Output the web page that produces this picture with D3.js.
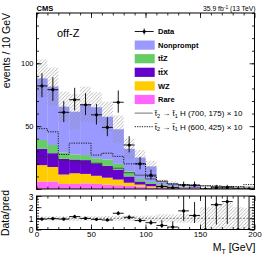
<!DOCTYPE html>
<html lang="en">
<head>
<meta charset="UTF-8">
<title>off-Z M_T</title>
<script src="https://d3js.org/d3.v7.min.js"></script>
<style>
  body { margin: 0; background: #fff; }
  text { font-family: "Liberation Sans", Arial, sans-serif; fill: #000; }
</style>
</head>
<body>
<svg width="266" height="256"></svg>
<script>
// bins of 10 GeV in M_T
const binLow = [0, 10, 20, 30, 40, 50, 60, 70, 80, 90, 100, 110, 120, 130, 140, 150, 160, 170, 180, 190];
const binWidth = 10;

// background stack (events / bin)
const rare      = [6, 6, 4, 4, 4.5, 4, 3.5, 3, 2.5, 2, 1.2, 0.8, 0.6, 0.4, 0.4, 0.15, 0.1, 0.1, 0.12, 0.1];
const wz        = [13, 11.5, 7.5, 8.5, 7.5, 6.5, 5.5, 4.5, 2.5, 1.5, 1.0, 0.6, 0.4, 0.2, 0.3, 0.05, 0.05, 0.05, 0.05, 0.05];
const ttx       = [13, 11, 12.5, 11, 11, 10, 9.5, 8, 5, 2.5, 1.8, 1.1, 0.8, 0.6, 0.7, 0.2, 0.2, 0.15, 0.2, 0.2];
const ttz       = [7, 6.5, 5, 4, 4, 4, 5, 4.5, 4, 2, 1.5, 0.8, 0.5, 0.3, 0.3, 0.1, 0.1, 0.1, 0.1, 0.1];
const nonprompt = [49, 46.5, 36.5, 34, 40.5, 40.5, 34, 27.5, 18, 17, 12.5, 2.2, 2.2, 0.3, 0.7, 0.05, 0, 0, 0.03, 0.05];
const bkgUnc    = [15, 15, 12, 14, 14, 12, 12, 11, 8, 6, 4.5, 2, 1.6, 0.7, 0.9, 0.55, 0.55, 0.55, 0.5, 0.45];

// observed data with asymmetric errors
const dataVals  = [82, 79, 61, 71, 67, 59, 49, 69, 35, 20, 11, 2, 1, 3, 3, 0, 1, 1, 0, 0];
const dataErrLo = [9.0, 8.9, 7.8, 8.4, 8.2, 7.7, 7.0, 8.3, 5.9, 4.4, 3.3, 1.3, 0.8, 1.6, 1.6, 0, 0.8, 0.8, 0, 0];
const dataErrHi = [10.1, 9.9, 8.9, 9.5, 9.2, 8.7, 8.0, 9.4, 7.0, 5.5, 4.4, 2.6, 2.3, 2.9, 2.9, 1.8, 2.3, 2.3, 1.8, 1.8];

// signals x10
const sigA = [26, 26, 23, 22.5, 20.5, 20.5, 16.5, 16.5, 13, 11, 8, 6, 4, 3.5, 3, 2.5, 2, 2, 1.5, 1.5];
const sigB = [48, 45.5, 27.5, 36.5, 36.5, 27, 28.5, 26, 20, 20, 10, 6.5, 4, 3.5, 3, 2.5, 2.5, 2, 2, 3.5];

const xTicks = [0, 50, 100, 150, 200];
const yTicks = [0, 50, 100];
const ratioTicks = [0, 1, 2, 3];

const svg = d3.select("svg");
const left = 36.5, right = 254.5, mainTop = 13, mainBot = 189, ratTop = 196, ratBot = 229.5;

const x = d3.scaleLinear().domain([0, 200]).range([left, right]);
const y = d3.scaleLinear().domain([0, 140]).range([mainBot, mainTop]);
const yr = d3.scaleLinear().domain([0, 3]).range([ratBot, ratTop]);
const bw = x(binWidth) - x(0);

const defs = svg.append("defs");
defs.append("clipPath").attr("id", "clipMain").append("rect")
  .attr("x", left).attr("y", mainTop).attr("width", right - left).attr("height", mainBot - mainTop);
defs.append("clipPath").attr("id", "clipRatio").append("rect")
  .attr("x", left).attr("y", ratTop).attr("width", right - left).attr("height", ratBot - ratTop);
const pat = defs.append("pattern").attr("id", "hatch")
  .attr("patternUnits", "userSpaceOnUse").attr("width", 3.5).attr("height", 3.5);
pat.append("path").attr("d", "M0,3.5 L3.5,0 M-1,1 L1,-1 M2.5,4.5 L4.5,2.5")
  .attr("stroke", "#888").attr("stroke-width", 0.6);

// stack
const keys = ["rare", "wz", "ttx", "ttz", "nonprompt"];
const colors = { rare: "#ff66ff", wz: "#ffcc00", ttx: "#6600cc", ttz: "#66cc66", nonprompt: "#9999ff" };
const rows = binLow.map((b, i) => ({
  bin: b, rare: rare[i], wz: wz[i], ttx: ttx[i], ttz: ttz[i], nonprompt: nonprompt[i]
}));
const stacked = d3.stack().keys(keys)(rows);
const total = stacked[stacked.length - 1].map(d => d[1]);

const gMain = svg.append("g").attr("clip-path", "url(#clipMain)");
gMain.selectAll("g.layer").data(stacked).join("g")
  .attr("class", "layer").attr("fill", d => colors[d.key])
  .selectAll("rect").data(d => d).join("rect")
  .attr("x", d => x(d.data.bin)).attr("width", bw + 0.2)
  .attr("y", d => y(d[1])).attr("height", d => Math.max(0, y(d[0]) - y(d[1])));

// uncertainty band
gMain.selectAll("rect.unc").data(binLow).join("rect").attr("class", "unc")
  .attr("x", d => x(d)).attr("width", bw)
  .attr("y", (d, i) => y(total[i] + bkgUnc[i]))
  .attr("height", (d, i) => y(Math.max(0, total[i] - bkgUnc[i])) - y(total[i] + bkgUnc[i]))
  .attr("fill", "url(#hatch)");

// signals
const step = d3.line().x(d => x(d[0])).y(d => y(d[1])).curve(d3.curveStepAfter);
const stepPts = s => binLow.map((b, i) => [b, s[i]]).concat([[200, s[s.length - 1]]]);
gMain.append("path").attr("d", step(stepPts(sigA)))
  .attr("fill", "none").attr("stroke", "#333").attr("stroke-width", 0.7);
gMain.append("path").attr("d", step(stepPts(sigB)))
  .attr("fill", "none").attr("stroke", "#111").attr("stroke-width", 1).attr("stroke-dasharray", "1.2,1.2");

// data points
function drawPoints(g, ys, vals, lo, hi) {
  const pg = g.selectAll("g.pt").data(binLow).join("g").attr("class", "pt");
  pg.append("line")
    .attr("x1", d => x(d)).attr("x2", d => x(d + binWidth))
    .attr("y1", (d, i) => ys(vals[i])).attr("y2", (d, i) => ys(vals[i]));
  pg.append("line")
    .attr("x1", d => x(d + binWidth / 2)).attr("x2", d => x(d + binWidth / 2))
    .attr("y1", (d, i) => ys(vals[i] - lo[i])).attr("y2", (d, i) => ys(vals[i] + hi[i]));
  pg.selectAll("line").attr("stroke", "#000").attr("stroke-width", 0.9);
  pg.append("circle")
    .attr("cx", d => x(d + binWidth / 2)).attr("cy", (d, i) => ys(vals[i]))
    .attr("r", 1.6).attr("fill", "#000");
}
drawPoints(gMain, y, dataVals, dataErrLo, dataErrHi);

// ratio panel
const gRat = svg.append("g").attr("clip-path", "url(#clipRatio)");
gRat.selectAll("rect.unc").data(binLow).join("rect").attr("class", "unc")
  .attr("x", d => x(d)).attr("width", bw)
  .attr("y", (d, i) => yr(1 + bkgUnc[i] / total[i]))
  .attr("height", (d, i) => yr(Math.max(0, 1 - bkgUnc[i] / total[i])) - yr(1 + bkgUnc[i] / total[i]))
  .attr("fill", "url(#hatch)");
gRat.append("line").attr("x1", left).attr("x2", right).attr("y1", yr(1)).attr("y2", yr(1))
  .attr("stroke", "#666").attr("stroke-width", 0.8).attr("stroke-dasharray", "2,1.5");
const ratio = dataVals.map((v, i) => v / total[i]);
const ratLo = dataErrLo.map((e, i) => e / total[i]);
const ratHi = dataErrHi.map((e, i) => e / total[i]);
drawPoints(gRat, yr, ratio, ratLo, ratHi);

// frames
[[mainTop, mainBot], [ratTop, ratBot]].forEach(([t, b]) => {
  svg.append("rect").attr("x", left).attr("y", t).attr("width", right - left).attr("height", b - t)
    .attr("fill", "none").attr("stroke", "#000").attr("stroke-width", 1);
});

// axes
function axes(ys, major, minor, t, b, labels) {
  const gl = svg.append("g").attr("transform", `translate(${left},0)`)
    .call(d3.axisLeft(ys).tickValues(major).tickSizeInner(-5).tickSizeOuter(0).tickPadding(3)
      .tickFormat(labels ? d3.format("d") : ""));
  svg.append("g").attr("transform", `translate(${left},0)`)
    .call(d3.axisLeft(ys).tickValues(minor).tickSize(-2.5).tickFormat(""));
  svg.append("g").attr("transform", `translate(${right},0)`)
    .call(d3.axisRight(ys).tickValues(major).tickSize(-5).tickFormat(""));
  svg.append("g").attr("transform", `translate(${right},0)`)
    .call(d3.axisRight(ys).tickValues(minor).tickSize(-2.5).tickFormat(""));
  svg.append("g").attr("transform", `translate(0,${t})`)
    .call(d3.axisTop(x).tickValues(xTicks).tickSize(-5).tickFormat(""));
  svg.append("g").attr("transform", `translate(0,${t})`)
    .call(d3.axisTop(x).tickValues(binLow).tickSize(-2.5).tickFormat(""));
  svg.append("g").attr("transform", `translate(0,${b})`)
    .call(d3.axisBottom(x).tickValues(binLow).tickSize(-2.5).tickFormat(""));
  return gl;
}
const yl = axes(y, yTicks, d3.range(0, 141, 10), mainTop, mainBot, true);
yl.selectAll("text").style("font-size", "7.5px").filter(d => d === 0).remove();
const rl = axes(yr, ratioTicks, d3.range(0, 3.01, 0.25), ratTop, ratBot, true);
rl.selectAll("text").style("font-size", "8.5px").attr("dy", "0.36em");
svg.append("g").attr("transform", `translate(0,${ratBot})`)
  .call(d3.axisBottom(x).tickValues(xTicks).tickSize(-5).tickPadding(2).tickFormat(d3.format("d")))
  .selectAll("text").style("font-size", "8px");
svg.selectAll(".domain").remove();
svg.selectAll(".tick line").attr("stroke", "#000").attr("stroke-width", 0.8);

// titles
svg.append("text").attr("x", left).attr("y", 11).style("font-weight", "bold").style("font-size", "7.5px").text("CMS");
const lumi = svg.append("text").attr("x", right + 1).attr("y", 11).attr("text-anchor", "end").style("font-size", "6.8px");
lumi.append("tspan").text("35.9 fb");
lumi.append("tspan").attr("dy", -2.5).style("font-size", "4.8px").text("-1");
lumi.append("tspan").attr("dy", 2.5).text(" (13 TeV)");
svg.append("text").attr("x", 57).attr("y", 36.7).style("font-size", "11px").text("off-Z");
svg.append("text").attr("transform", "translate(9.5,13) rotate(-90)").attr("text-anchor", "end")
  .style("font-size", "10.5px").text("events / 10 GeV");
svg.append("text").attr("transform", "translate(8.5,213) rotate(-90)").attr("text-anchor", "middle")
  .style("font-size", "10.5px").text("Data/pred");
const xt = svg.append("text").attr("x", right + 1).attr("y", 251).attr("text-anchor", "end").style("font-size", "10.5px");
xt.append("tspan").text("M");
xt.append("tspan").attr("dy", 2.5).style("font-size", "7px").text("T");
xt.append("tspan").attr("dy", -2.5).text(" [GeV]");

// legend
const legX = 134.7, legTextX = 158, legY0 = 31.5, legStep = 13.6;
const lg = svg.append("g");
// data entry
lg.append("line").attr("x1", legX).attr("x2", legX + 19).attr("y1", legY0).attr("y2", legY0).attr("stroke", "#000").attr("stroke-width", 0.9);
lg.append("line").attr("x1", legX + 9.5).attr("x2", legX + 9.5).attr("y1", legY0 - 3).attr("y2", legY0 + 3).attr("stroke", "#000").attr("stroke-width", 0.9);
lg.append("circle").attr("cx", legX + 9.5).attr("cy", legY0).attr("r", 1.6);
lg.append("text").attr("x", legTextX).attr("y", legY0 + 2.6).style("font-size", "7.5px").style("font-weight", "bold").text("Data");
const boxLabels = [["nonprompt", "Nonprompt"], ["ttz", "tt\u0304Z"], ["ttx", "tt\u0304X"], ["wz", "WZ"], ["rare", "Rare"]];
boxLabels.forEach(([k, lab], i) => {
  const cy = legY0 + legStep * (i + 1);
  lg.append("rect").attr("x", legX).attr("y", cy - 4.6).attr("width", 20).attr("height", 9.2).attr("fill", colors[k]);
  lg.append("text").attr("x", legTextX).attr("y", cy + 2.6).style("font-size", "7.5px").style("font-weight", "bold").text(lab);
});
const sigLabels = [["(700, 175)", "#333", null, 0.7], ["(600, 425)", "#111", "1.2,1.2", 1]];
sigLabels.forEach(([mass, col, dash, sw], i) => {
  const cy = legY0 + legStep * (i + 6);
  lg.append("line").attr("x1", legX).attr("x2", legX + 18).attr("y1", cy).attr("y2", cy)
    .attr("stroke", col).attr("stroke-width", sw).attr("stroke-dasharray", dash);
  const t = lg.append("text").attr("x", legX + 20).attr("y", cy + 2.8).style("font-size", "8px");
  t.append("tspan").text("t\u0303");
  t.append("tspan").attr("dy", 1.8).style("font-size", "5.5px").text("2");
  t.append("tspan").attr("dy", -1.8).text(" \u2192 t\u0303");
  t.append("tspan").attr("dy", 1.8).style("font-size", "5.5px").text("1");
  t.append("tspan").attr("dy", -1.8).text(` H ${mass} \u00d7 10`);
});
</script>
</body>
</html>
